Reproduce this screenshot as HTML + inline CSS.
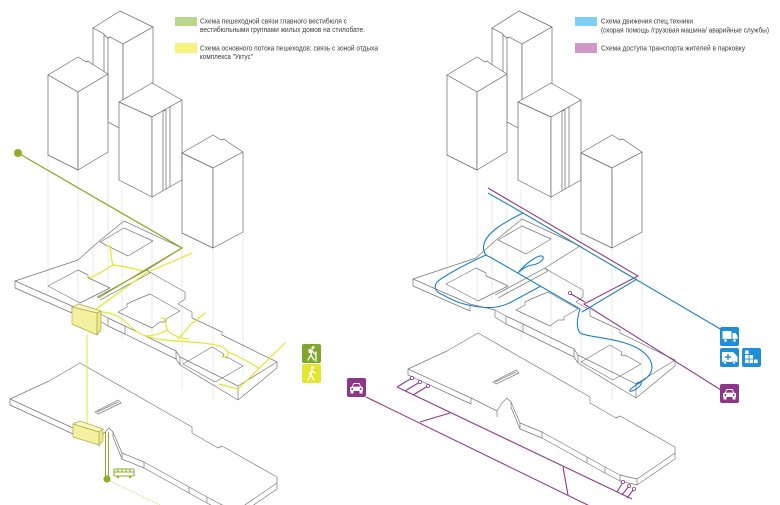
<!DOCTYPE html>
<html><head><meta charset="utf-8"><style>
html,body{margin:0;padding:0;background:#fff;width:780px;height:505px;overflow:hidden}
svg{display:block}
text{font-family:"Liberation Sans","DejaVu Sans",sans-serif;font-size:7px;fill:#3a3a3a}
</style></head><body>
<svg width="780" height="505" viewBox="0 0 780 505" xmlns="http://www.w3.org/2000/svg" xmlns:xlink="http://www.w3.org/1999/xlink">
<defs>
<g id="fv" stroke="#dcdcdc" stroke-width=".6" fill="none">
<path d="M48,155V300 M78,170V310 M93,200V300 M108,152V300 M122,190V340 M152,197V345 M182,233V390 M213,248V400 M243,232V375"/>
</g>
<g id="us" fill="none" stroke="#777" stroke-width=".7" stroke-linejoin="round">
<polygon points="15,281 78,260 97,243 124,221 182,248 147,270 153,274 185,292 185,299 178,304 192,312 192,318 222,332 222,335 277,362 238,386 180,357 176,351 125,326 108,318 97,312 72,306"/>
<polyline points="15,281 15,288 72,313"/>
<polyline points="97,319 108,326 125,334 176,359 180,365 238,400 277,368 277,362"/>
<path d="M108,318V326 M125,326V334 M176,351V359 M180,357V365 M238,386V400 M97,312V319 M72,306V313"/>
<polygon points="100,242 124,228 153,241 128,256"/>
<polygon points="48,286 78,270 88,275 88,278 93,280 110,288 80,303"/>
<polygon points="118,312 127,307 127,304 133,301 150,294 180,311 166,319 166,322 160,322 152,328"/>
<polygon points="183,364 212,347 224,354 223,357 229,358 243,366 215,382"/>
<path d="M97,297 L147,270 M100,300 L150,273 M147,270 L150,273" stroke="#666"/>
</g>
<g id="ls" fill="none" stroke="#777" stroke-width=".7" stroke-linejoin="round">
<polygon points="10,399 49,381 80,363 192,427 192,433 218,448 222,446 277,477 277,483 239,509 222,505 207,497 189,487 144,462 122,453 113,432 109,428 104,433 99,441 73,428"/>
<polyline points="10,399 10,405 73,434"/>
<polyline points="113,432 113,437 122,459 144,468 189,493 207,503 222,511 239,515 277,489 277,483"/>
<path d="M73,428V434 M99,441V447 M122,453V459 M144,462V468 M189,487V493 M207,497V503 M222,505V511 M239,509V515"/>
<polygon points="95,412 118,400 121,403 98,414"/>
<path d="M97,412 L118,402"/>
</g>
<g id="bld" fill="#fff" stroke="#666" stroke-width=".7" stroke-linejoin="round">
<polygon points="93,28 120,11 153,27 123,44 110,37 108,38 104,35 104,34"/>
<polygon points="93,28 104,34 104,35 108,38 110,37 123,44 123,130 93,114"/>
<polygon points="123,44 153,27 153,113 123,130"/>
<path d="M104,35V118 M108,38V120" fill="none"/>
<polygon points="48,75 78,57 86,62 88,61 92,64 108,74 78,92"/>
<polygon points="48,75 78,92 78,170 48,155"/>
<polygon points="78,92 108,74 108,152 78,170"/>
<polygon points="119,102 152,83 182,100 152,117"/>
<polygon points="119,102 152,117 152,197 119,180"/>
<polygon points="152,117 182,100 182,180 152,197"/>
<path d="M163,111V191 M166,110L163,111 M166,110V189 M170,107V187" fill="none"/>
<polygon points="182,153 213,135 221,140 224,139 228,142 243,152 213,168"/>
<polygon points="182,153 213,168 213,248 182,233"/>
<polygon points="213,168 243,152 243,232 213,248"/>
</g>
<g id="car">
<rect x="0" y="0" width="19" height="19" rx="2" fill="#8c3589"/>
<path d="M3,13 L3,9.5 L5,8.5 L6.5,5 L12.5,5 L14,8.5 L16,9.5 L16,13 Z" fill="#fff"/>
<path d="M7,6 L12,6 L13.2,8.6 L5.8,8.6 Z" fill="#8c3589"/>
<circle cx="5.3" cy="11" r="1" fill="#8c3589"/><circle cx="13.7" cy="11" r="1" fill="#8c3589"/>
<rect x="3.5" y="13" width="3" height="2.5" fill="#fff"/><rect x="12.5" y="13" width="3" height="2.5" fill="#fff"/>
</g>
</defs>

<!-- LEFT PANEL -->
<use xlink:href="#fv"/>
<use xlink:href="#ls"/>
<use xlink:href="#us"/>

<!-- yellow paths -->
<g fill="none" stroke="#e4e62c" stroke-width="1.2" stroke-linecap="round">
<path d="M87,335 V425" stroke-width="1"/>
<path d="M96,309 L146,273 L192,253"/>
<path d="M106,246 L110,246 C111,252 111,260 113,265"/>
<path d="M113,265 C105,270 97,275 90,278 L88,276"/>
<path d="M113,265 C122,266 132,268 142,271"/>
<path d="M100,312 C113,312 122,318 130,326 C138,334 148,338 165,340 C185,342 205,342 220,346 C228,349 230,354 226,357 L222,357"/>
<path d="M161,318 L164,318 C166,324 167,328 167,330 C160,334 153,336 146,336"/>
<path d="M167,330 C172,335 180,338 188,339"/>
<path d="M205,313 L190,325 C186,330 182,335 178,339"/>
<path d="M228,352 C236,355 246,360 258,368"/>
<path d="M219,384 L238,389 L285,343"/>
</g>
<!-- green line -->
<g fill="none" stroke="#8fa825" stroke-width="1.3">
<polyline points="18,153 182,248 98,298"/>
<path d="M105.5,432 V478 M108.5,432 V478" stroke-width="1"/>
</g>
<circle cx="18" cy="153" r="4" fill="#8db02a"/>
<circle cx="107" cy="479" r="3.6" fill="#8db02a"/>
<path d="M110,481 L160,505" stroke="#c9d86a" stroke-width="1" stroke-dasharray="1.2,1.4" fill="none"/>
<!-- bus -->
<g fill="none" stroke="#8db02a" stroke-width="1.1">
<rect x="114" y="469" width="20" height="7" rx="1.2"/>
<path d="M114,472 H134 M118,469 V472 M122,469 V472 M126,469 V472 M130,469 V472"/>
</g>
<circle cx="118" cy="477" r="1.2" fill="#8db02a"/><circle cx="130" cy="477" r="1.2" fill="#8db02a"/>
<!-- yellow boxes -->
<g stroke="#b0ae45" stroke-width=".7" stroke-linejoin="round">
<polygon points="72,307 79,304 101,311 97,313" fill="#f8f6c2"/>
<polygon points="72,307 97,313 97,335 72,324" fill="#f3f0a0"/>
<polygon points="97,313 101,311 101,330 97,335" fill="#ebe78a"/>
<polygon points="73,424 80,421 103,429 99,432" fill="#f8f6c2"/>
<polygon points="73,424 99,432 99,445 73,437" fill="#f3f0a0"/>
<polygon points="99,432 103,429 103,441 99,445" fill="#ebe78a"/>
</g>
<use xlink:href="#bld"/>

<!-- pedestrian icons -->
<rect x="302" y="344" width="19" height="19" rx="2" fill="#7fa62c"/>
<g stroke="#fff" stroke-width="1.3" fill="none" stroke-linecap="round">
<path d="M312,349.5 L311,355 L308,360 M311,355 L314,360 M312,351 L315,354 M316,352 L316,361"/>
</g>
<circle cx="313" cy="347.5" r="1.5" fill="#fff"/><rect x="308.5" y="349" width="2.5" height="4" fill="#fff"/>
<rect x="302" y="364" width="19" height="19" rx="2" fill="#e3e530"/>
<g stroke="#fff" stroke-width="1.3" fill="none" stroke-linecap="round">
<path d="M312,369.5 L311,375 L308,380 M311,375 L314,380 M312,371 L309,374 M312,371 L315,373"/>
</g>
<circle cx="312.5" cy="367.5" r="1.5" fill="#fff"/>
<use xlink:href="#car" x="347" y="378"/>

<!-- LEFT LEGEND -->
<rect x="175" y="17" width="22" height="9" fill="#b9d68c"/>
<text x="200" y="23.5" textLength="147" lengthAdjust="spacingAndGlyphs">Схема  пешеходной связи главного вестибюля с</text>
<text x="200" y="32" textLength="165" lengthAdjust="spacingAndGlyphs">вестибюльными группами жилых домов на стилобате.</text>
<rect x="175" y="43" width="22" height="10" fill="#f8f27f"/>
<text x="200" y="50.5" textLength="178" lengthAdjust="spacingAndGlyphs">Схема основного потока пешеходов: связь с зоной отдыха</text>
<text x="200" y="59" textLength="53" lengthAdjust="spacingAndGlyphs">комплекса "Уктус"</text>

<!-- RIGHT PANEL -->
<use xlink:href="#fv" transform="translate(399,0)"/>
<use xlink:href="#ls" transform="translate(398,-30)"/>
<use xlink:href="#us" transform="translate(398,-2)"/>

<!-- purple -->
<g fill="none" stroke="#8e3a88" stroke-width="1.1">
<polyline points="488,188 638,276 584,304 721,390"/>
<path d="M571,294 L585,302"/>
<path d="M366,397 L600,511"/>
<path d="M397,387 L632,499"/>
<path d="M420,422 L450,413 M563,467 L568,495"/>
<path d="M412,378 L397,387 M420,382 L405,391 M428,386 L413,395"/>
<path d="M623,482 L617,492 M629,486 L622,495 M634,489 L627,498"/>
</g>
<g fill="#fff" stroke="#8e3a88" stroke-width=".8">
<circle cx="570" cy="293" r="1.6"/>
<circle cx="412" cy="378" r="1.6"/><circle cx="420" cy="382" r="1.6"/><circle cx="428" cy="386" r="1.6"/>
<circle cx="623" cy="482" r="1.6"/><circle cx="629" cy="486" r="1.6"/><circle cx="634" cy="489" r="1.6"/>
</g>
<!-- blue -->
<g fill="none" stroke="#1f7fc4" stroke-width="1.1" stroke-linejoin="round">
<path d="M488,193 L523,213 L722,330"/>
<path d="M523,213 C505,222 487,232 484,244 C482,252 486,256 490,257 L580,309"/>
<path d="M486,255 C470,262 445,275 437,282 C433,288 436,292 443,295 C452,300 462,305 480,307 C495,309 505,306 515,300 L541,286"/>
<path d="M518,273 C525,264 537,255 542,256 C546,258 540,264 532,265 C526,266 521,270 518,273"/>
<path d="M580,309 C577,318 576,328 580,333 C588,337 605,337 625,343 C642,348 652,358 652,367 C652,375 645,380 636,385 C629,390 628,392 632,391 C638,389 644,383 640,382 C637,382 636,384 636,385"/>
<path d="M582,312 L637,279"/>
</g>
<use xlink:href="#bld" transform="translate(399,0)"/>

<!-- blue icons -->
<rect x="720" y="327" width="19" height="19" rx="2" fill="#1e8fd6"/>
<rect x="722.5" y="331" width="9" height="8" fill="#fff"/>
<path d="M732.5,333 L735.5,333 L737.5,336 L737.5,339 L732.5,339 Z" fill="#fff"/>
<circle cx="725.5" cy="340.5" r="1.6" fill="#fff" stroke="#1e8fd6" stroke-width=".6"/>
<circle cx="734.5" cy="340.5" r="1.6" fill="#fff" stroke="#1e8fd6" stroke-width=".6"/>
<rect x="720" y="348" width="19" height="19" rx="2" fill="#1e8fd6"/>
<path d="M722,352 L733,352 L736,355 L737.5,357 L737.5,362 L722,362 Z" fill="#fff"/>
<path d="M728,354 V360 M725,357 H731" stroke="#1e8fd6" stroke-width="1.4"/>
<circle cx="725" cy="362.5" r="1.5" fill="#fff" stroke="#1e8fd6" stroke-width=".6"/>
<circle cx="734" cy="362.5" r="1.5" fill="#fff" stroke="#1e8fd6" stroke-width=".6"/>
<rect x="742" y="348" width="19" height="19" rx="2" fill="#1e8fd6"/>
<g fill="#fff">
<rect x="745" y="350.5" width="3.6" height="3.6"/>
<rect x="745" y="355" width="3.6" height="3.6"/><rect x="749.5" y="355" width="3.6" height="3.6"/>
<rect x="745" y="359.5" width="3.6" height="3.6"/><rect x="749.5" y="359.5" width="3.6" height="3.6"/><rect x="754" y="359.5" width="3.6" height="3.6"/>
</g>
<use xlink:href="#car" x="720" y="384"/>

<!-- RIGHT LEGEND -->
<rect x="575" y="17" width="22" height="9" fill="#7fd0f2"/>
<text x="601" y="23.5" textLength="92" lengthAdjust="spacingAndGlyphs">Схема движения спец.техники</text>
<text x="601" y="32.5" textLength="168" lengthAdjust="spacingAndGlyphs">(скорая помощь /грузовая машина/ аварийные службы)</text>
<rect x="575" y="43" width="22" height="10" fill="#d297c9"/>
<text x="601" y="50.5" textLength="144" lengthAdjust="spacingAndGlyphs">Схема доступа транспорта  жителей в парковку</text>
</svg>
</body></html>
